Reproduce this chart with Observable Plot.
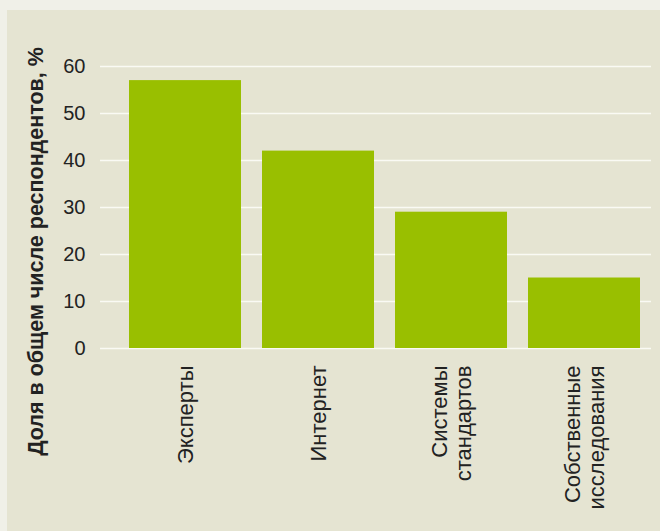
<!DOCTYPE html>
<html><head><meta charset="utf-8">
<script src="https://cdn.jsdelivr.net/npm/d3@7"></script>
<script src="https://cdn.jsdelivr.net/npm/@observablehq/plot@0.6"></script>
<style>
html,body{margin:0;padding:0;background:#f0f0e8;overflow:hidden;}
#panel{position:absolute;left:7px;top:10px;width:653px;height:521px;background:#e5e4d2;}
</style></head><body><div id="panel"></div>
<script>
const categories = ["Эксперты", "Интернет", "Системы\nстандартов", "Собственные\nисследования"];
const values = [57, 42, 29, 15];
const yTicks = [0, 10, 20, 30, 40, 50, 60];
const yLabel = "Доля в общем числе респондентов, %";

const data = categories.map((c, i) => ({category: c, value: values[i]}));

const chart = Plot.plot({
  width: 653,
  height: 521,
  marginTop: 56,
  marginBottom: 183,
  marginLeft: 93,
  marginRight: 9,
  style: {background: "transparent", fontFamily: "'Liberation Sans', Arial, sans-serif", color: "#222"},
  x: {domain: categories, range: [110.3, 643.7], paddingInner: 0.16, paddingOuter: 0.08, label: null},
  y: {domain: [0, 60], label: null},
  marks: [
    Plot.ruleY(yTicks, {stroke: "#fafaf4", strokeWidth: 1.6}),
    Plot.barY(data, {x: "category", y: "value", fill: "#99bf00"}),
    Plot.axisY(yTicks, {tickSize: 0, tickPadding: 15, fontSize: 20, fill: "#222", label: null}),
    Plot.axisX({tickSize: 0, tickRotate: -90, tickPadding: 17, fontSize: 22, lineHeight: 1.1, fill: "#222", label: null}),
    Plot.text([yLabel], {text: d => d, frameAnchor: "left", textAnchor: "middle", dx: -64, dy: 44, rotate: -90, fontWeight: "bold", fontSize: 21.5, fill: "#222"})
  ]
});
document.getElementById("panel").appendChild(chart);
</script>
</body></html>
